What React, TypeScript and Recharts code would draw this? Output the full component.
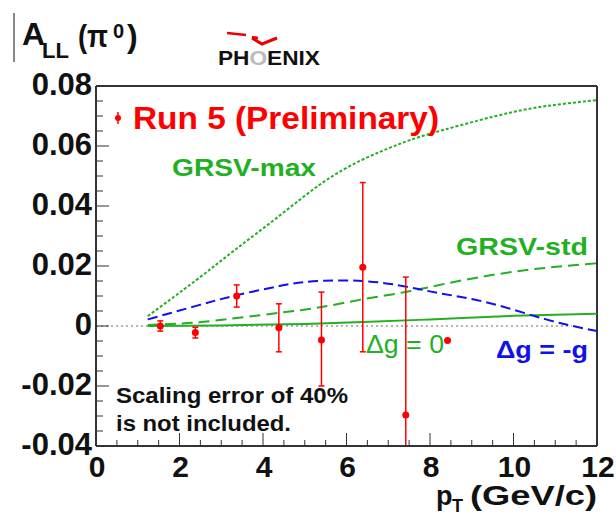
import React from "react";
import {
  ComposedChart,
  Line,
  Scatter,
  ErrorBar,
  XAxis,
  YAxis,
  ReferenceLine,
} from "recharts";

// Run 5 preliminary pi0 A_LL points (lower bar of the 7.4 point is cut by the frame)
const PT = [1.54, 2.38, 3.37, 4.38, 5.4, 6.39, 7.42, 8.42];
const ALL = [0.0, -0.0022, 0.01, -0.0006, -0.0047, 0.0196, -0.0297, -0.0048];
const ERR_LOW = [0.0017, 0.0018, 0.0037, 0.008, 0.0153, 0.0282, 0.0103, 0];
const ERR_HIGH = [0.0017, 0.0018, 0.0037, 0.008, 0.016, 0.0282, 0.046, 0];

// model curves
const MAX_X = [1.24, 2.4, 3.35, 4.39, 5.43, 6.39, 7.2, 7.98, 9.58, 10.78, 12];
const MAX_Y = [0.0033, 0.0153, 0.0256, 0.0367, 0.0478, 0.0555, 0.0603, 0.064, 0.07, 0.0733, 0.0753];

const STD_X = [1.24, 2, 2.8, 4.39, 5.4, 6.39, 7.44, 8.4, 9.58, 10.78, 12];
const STD_Y = [0.0003, 0.0008, 0.0017, 0.0044, 0.0063, 0.0089, 0.0114, 0.0142, 0.0172, 0.0194, 0.0209];

const ZERO_X = [1.24, 3, 5, 6.4, 8, 10, 12];
const ZERO_Y = [0.0, 0.0002, 0.0007, 0.0013, 0.0022, 0.0034, 0.0041];

const NEG_X = [1.24, 2.4, 3.35, 4.39, 5.2, 6.39, 7.44, 8.24, 9.44, 10.78, 12];
const NEG_Y = [0.0022, 0.0067, 0.0102, 0.0133, 0.0149, 0.015, 0.0131, 0.0109, 0.0076, 0.0022, -0.0017];

const Y_MAJOR = [-0.04, -0.02, 0, 0.02, 0.04, 0.06, 0.08];
const Y_LABELS = ["-0.04", "-0.02", "0", "0.02", "0.04", "0.06", "0.08"];
const X_MAJOR = [0, 2, 4, 6, 8, 10, 12];
const X_LABELS = ["0", "2", "4", "6", "8", "10", "12"];

const Y_TICKS = Array.from({ length: 25 }, (_, i) => Number((-0.04 + i * 0.005).toFixed(3)));
const X_TICKS = Array.from({ length: 25 }, (_, i) => i * 0.5);

const points = PT.map((x, i) => ({ x, y: ALL[i], err: [ERR_LOW[i], ERR_HIGH[i]] }));
const toLine = (xs: number[], ys: number[]) => xs.map((x, i) => ({ x, y: ys[i] }));

const FONT = "'Liberation Sans', Arial, Helvetica, sans-serif";
const GREEN = "#22b022";
const BLUE = "#1010ee";
const FRAME = "#333";

function YTick(props: any) {
  const { x, y, payload } = props;
  const idx = Y_MAJOR.findIndex((m) => Math.abs(m - payload.value) < 1e-6);
  const major = idx >= 0;
  return (
    <g>
      <line x1={x} y1={y} x2={x + (major ? 13 : 7)} y2={y} stroke={FRAME} strokeWidth={1} />
      {major && (
        <text x={x - 4} y={y + 9} textAnchor="end" fontSize={31} fontWeight="bold" fontFamily={FONT} fill="#111">
          {Y_LABELS[idx]}
        </text>
      )}
    </g>
  );
}

function XTick(props: any) {
  const { x, y, payload } = props;
  const idx = X_MAJOR.findIndex((m) => Math.abs(m - payload.value) < 1e-6);
  const major = idx >= 0;
  return (
    <g>
      <line x1={x} y1={y} x2={x} y2={y - (major ? 13 : 6)} stroke={FRAME} strokeWidth={1} />
      {major && (
        <text x={x + 1} y={y + 31} textAnchor="middle" fontSize={30} fontWeight="bold" fontFamily={FONT} fill="#111">
          {X_LABELS[idx]}
        </text>
      )}
    </g>
  );
}

function Overlay() {
  const t = { fontFamily: FONT, fontWeight: "bold" as const };
  return (
    <svg width={616} height={519} style={{ position: "absolute", left: 0, top: 0, pointerEvents: "none" }}>
      {/* y title */}
      <line x1={14} y1={13} x2={14} y2={62} stroke="#888" strokeWidth={2} />
      <text x={22} y={45} fontSize={32} {...t} fill="#111">A</text>
      <text x={42} y={58} fontSize={22} {...t} fill="#111">LL</text>
      <text x={78} y={47} fontSize={32} {...t} fill="#111" textLength={30} lengthAdjust="spacingAndGlyphs">(π</text>
      <text x={113} y={38} fontSize={20} {...t} fill="#111">0</text>
      <text x={127} y={47} fontSize={32} {...t} fill="#111">)</text>

      {/* PHENIX logo */}
      <path d="M227 33 L246 35 M252 37 L258 38" stroke="#e00" strokeWidth={2.5} fill="none" />
      <path d="M252 38 L262 44 L277 38" stroke="#e00" strokeWidth={3} fill="none" />
      <text x={218} y={65} fontSize={20} {...t} fill="#111" textLength={102} lengthAdjust="spacingAndGlyphs">
        PH<tspan fill="#bbb">O</tspan>ENIX
      </text>

      {/* legend marker */}
      <line x1={118} y1={112} x2={118} y2={124} stroke="#f00" strokeWidth={1.5} />
      <circle cx={118} cy={118} r={3} fill="#f00" />
      <text x={133} y={129} fontSize={32} {...t} fill="#f00" textLength={306} lengthAdjust="spacingAndGlyphs">
        Run 5 (Preliminary)
      </text>

      <text x={172} y={176} fontSize={24} {...t} fill={GREEN} textLength={144} lengthAdjust="spacingAndGlyphs">
        GRSV-max
      </text>
      <text x={456} y={255} fontSize={24} {...t} fill={GREEN} textLength={132} lengthAdjust="spacingAndGlyphs">
        GRSV-std
      </text>
      <text x={366} y={353} fontSize={26} fontFamily={FONT} fill={GREEN} textLength={78} lengthAdjust="spacingAndGlyphs">
        Δg = 0
      </text>
      <text x={496} y={358} fontSize={24} {...t} fill={BLUE} textLength={92} lengthAdjust="spacingAndGlyphs">
        Δg = -g
      </text>

      <text x={116} y={403} fontSize={22} {...t} fill="#111" textLength={232} lengthAdjust="spacingAndGlyphs">
        Scaling error of 40%
      </text>
      <text x={116} y={431} fontSize={22} {...t} fill="#111" textLength={175} lengthAdjust="spacingAndGlyphs">
        is not included.
      </text>

      {/* x title */}
      <text x={436} y={505} fontSize={27} {...t} fill="#111">p</text>
      <text x={452} y={512} fontSize={18} {...t} fill="#111">T</text>
      <text x={470} y={505} fontSize={27} {...t} fill="#111" textLength={127} lengthAdjust="spacingAndGlyphs">
        (GeV/c)
      </text>
    </svg>
  );
}

export default function App() {
  return (
    <div style={{ position: "absolute", left: 0, top: 0, width: 616, height: 519, background: "#fff" }}>
      <ComposedChart width={616} height={519} margin={{ top: 86, right: 19, bottom: 0, left: 0 }}>
        <XAxis
          dataKey="x"
          type="number"
          domain={[0, 12]}
          ticks={X_TICKS}
          interval={0}
          height={73}
          tickSize={0}
          tickMargin={0}
          axisLine={{ stroke: FRAME, strokeWidth: 2 }}
          tickLine={false}
          tick={<XTick />}
        />
        <YAxis
          type="number"
          domain={[-0.04, 0.08]}
          allowDataOverflow
          ticks={Y_TICKS}
          interval={0}
          width={96}
          tickSize={0}
          tickMargin={0}
          axisLine={{ stroke: FRAME, strokeWidth: 2 }}
          tickLine={false}
          tick={<YTick />}
        />
        <ReferenceLine y={0.08} stroke={FRAME} strokeWidth={2} />
        <ReferenceLine x={12} stroke={FRAME} strokeWidth={2} />
        <ReferenceLine
          segment={[{ x: 0, y: 0 }, { x: 11.4, y: 0 }]}
          stroke="#999"
          strokeWidth={1.5}
          strokeDasharray="2 3"
        />
        <Line data={toLine(MAX_X, MAX_Y)} dataKey="y" type="natural" stroke={GREEN} strokeWidth={2} strokeDasharray="3 2" dot={false} isAnimationActive={false} />
        <Line data={toLine(STD_X, STD_Y)} dataKey="y" type="natural" stroke={GREEN} strokeWidth={2} strokeDasharray="11 6" dot={false} isAnimationActive={false} />
        <Line data={toLine(ZERO_X, ZERO_Y)} dataKey="y" type="monotone" stroke={GREEN} strokeWidth={2} dot={false} isAnimationActive={false} />
        <Line data={toLine(NEG_X, NEG_Y)} dataKey="y" type="natural" stroke={BLUE} strokeWidth={2} strokeDasharray="10 5" dot={false} isAnimationActive={false} />
        <Scatter data={points} dataKey="y" fill="#f00" isAnimationActive={false} shape={(p: any) => <circle cx={p.cx} cy={p.cy} r={3.5} fill="#f00" />}>
          <ErrorBar dataKey="err" direction="y" width={3} stroke="#f00" strokeWidth={1.5} />
        </Scatter>
      </ComposedChart>
      <Overlay />
    </div>
  );
}
